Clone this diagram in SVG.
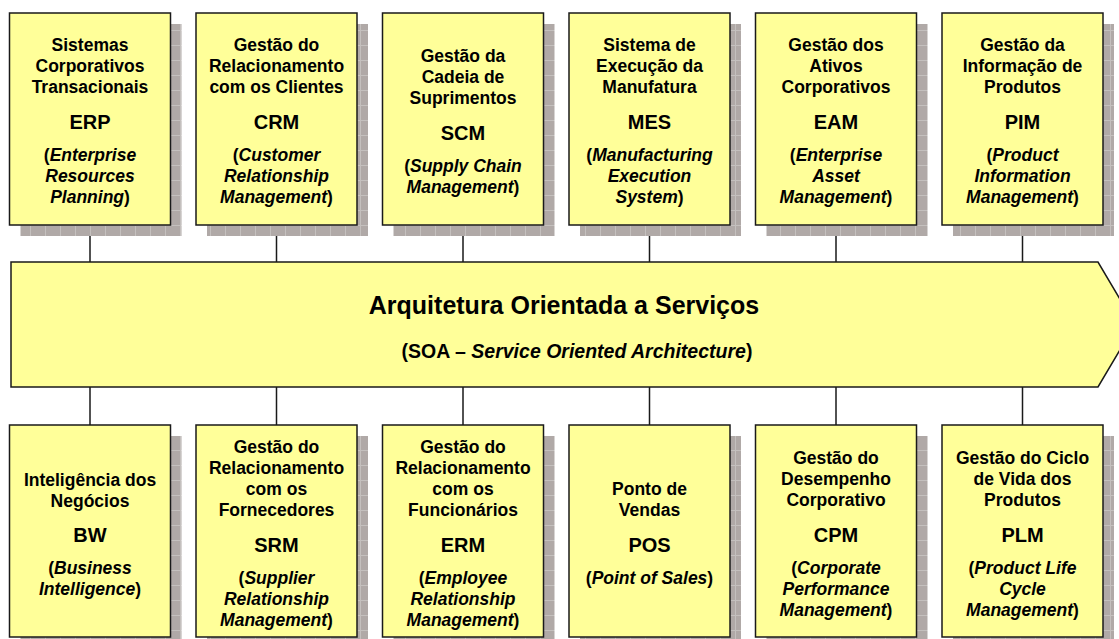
<svg xmlns="http://www.w3.org/2000/svg" width="1119" height="639" viewBox="0 0 1119 639">
<style>
.box{fill:#ffff99;stroke:#1a1a1a;stroke-width:1.5}
.sh{fill:url(#grid)}
.t{font-family:"Liberation Sans",Arial,sans-serif;font-weight:bold;font-size:17.5px;fill:#000;text-anchor:middle}
.a{font-size:20px}
.i{font-style:italic}
.c{stroke:#1a1a1a;stroke-width:1.5;fill:none}
</style>
<defs>
<pattern id="grid" width="15" height="15" patternUnits="userSpaceOnUse">
<rect width="15" height="15" fill="#b0a9a7"/>
<path d="M0 0.5H15M0.5 0V15" stroke="#c4c0be" stroke-width="1"/>
</pattern>
</defs>
<rect width="1119" height="639" fill="#fff"/>

<g id="connectors">
<path class="c" d="M90 225V262M276.5 225V262M463 225V262M649.5 225V262M836 225V262M1022.5 225V262"/>
<path class="c" d="M90 387V425M276.5 387V425M463 387V425M649.5 387V425M836 387V425M1022.5 387V425"/>
</g>

<g id="soa">
<polygon class="box" points="11,262 1098,262 1135,324.5 1098,387 11,387"/>
<text class="t" x="564" y="314" style="font-size:25px">Arquitetura Orientada a Serviços</text>
<text class="t" x="577" y="358" style="font-size:19.5px">(SOA – <tspan class="i">Service Oriented Architecture</tspan>)</text>
</g>

<g id="erp">
<rect class="sh" x="20.5" y="24" width="161" height="212"/>
<rect class="box" x="9.5" y="13" width="161" height="212"/>
<text class="t" x="90"><tspan x="90" y="51">Sistemas</tspan><tspan x="90" y="72">Corporativos</tspan><tspan x="90" y="93">Transacionais</tspan><tspan x="90" y="129" class="a">ERP</tspan><tspan x="90" y="161">(<tspan class="i">Enterprise</tspan></tspan><tspan x="90" y="182" class="i">Resources</tspan><tspan x="90" y="203"><tspan class="i">Planning</tspan>)</tspan></text>
</g>

<g id="crm">
<rect class="sh" x="207" y="24" width="161" height="212"/>
<rect class="box" x="196" y="13" width="161" height="212"/>
<text class="t" x="276.5"><tspan x="276.5" y="51">Gestão do</tspan><tspan x="276.5" y="72">Relacionamento</tspan><tspan x="276.5" y="93">com os Clientes</tspan><tspan x="276.5" y="129" class="a">CRM</tspan><tspan x="276.5" y="161">(<tspan class="i">Customer</tspan></tspan><tspan x="276.5" y="182" class="i">Relationship</tspan><tspan x="276.5" y="203"><tspan class="i">Management</tspan>)</tspan></text>
</g>

<g id="scm">
<rect class="sh" x="393.5" y="24" width="161" height="212"/>
<rect class="box" x="382.5" y="13" width="161" height="212"/>
<text class="t" x="463"><tspan x="463" y="61.5">Gestão da</tspan><tspan x="463" y="82.5">Cadeia de</tspan><tspan x="463" y="103.5">Suprimentos</tspan><tspan x="463" y="139.5" class="a">SCM</tspan><tspan x="463" y="171.5">(<tspan class="i">Supply Chain</tspan></tspan><tspan x="463" y="192.5"><tspan class="i">Management</tspan>)</tspan></text>
</g>

<g id="mes">
<rect class="sh" x="580" y="24" width="161" height="212"/>
<rect class="box" x="569" y="13" width="161" height="212"/>
<text class="t" x="649.5"><tspan x="649.5" y="51">Sistema de</tspan><tspan x="649.5" y="72">Execução da</tspan><tspan x="649.5" y="93">Manufatura</tspan><tspan x="649.5" y="129" class="a">MES</tspan><tspan x="649.5" y="161">(<tspan class="i">Manufacturing</tspan></tspan><tspan x="649.5" y="182" class="i">Execution</tspan><tspan x="649.5" y="203"><tspan class="i">System</tspan>)</tspan></text>
</g>

<g id="eam">
<rect class="sh" x="766.5" y="24" width="161" height="212"/>
<rect class="box" x="755.5" y="13" width="161" height="212"/>
<text class="t" x="836"><tspan x="836" y="51">Gestão dos</tspan><tspan x="836" y="72">Ativos</tspan><tspan x="836" y="93">Corporativos</tspan><tspan x="836" y="129" class="a">EAM</tspan><tspan x="836" y="161">(<tspan class="i">Enterprise</tspan></tspan><tspan x="836" y="182" class="i">Asset</tspan><tspan x="836" y="203"><tspan class="i">Management</tspan>)</tspan></text>
</g>

<g id="pim">
<rect class="sh" x="953" y="24" width="161" height="212"/>
<rect class="box" x="942" y="13" width="161" height="212"/>
<text class="t" x="1022.5"><tspan x="1022.5" y="51">Gestão da</tspan><tspan x="1022.5" y="72">Informação de</tspan><tspan x="1022.5" y="93">Produtos</tspan><tspan x="1022.5" y="129" class="a">PIM</tspan><tspan x="1022.5" y="161">(<tspan class="i">Product</tspan></tspan><tspan x="1022.5" y="182" class="i">Information</tspan><tspan x="1022.5" y="203"><tspan class="i">Management</tspan>)</tspan></text>
</g>

<g id="bw">
<rect class="sh" x="20.5" y="436" width="161" height="212"/>
<rect class="box" x="9.5" y="425" width="161" height="212"/>
<text class="t" x="90"><tspan x="90" y="485.5">Inteligência dos</tspan><tspan x="90" y="506.5">Negócios</tspan><tspan x="90" y="541.5" class="a">BW</tspan><tspan x="90" y="573.5">(<tspan class="i">Business</tspan></tspan><tspan x="90" y="594.5"><tspan class="i">Intelligence</tspan>)</tspan></text>
</g>

<g id="srm">
<rect class="sh" x="207" y="436" width="161" height="212"/>
<rect class="box" x="196" y="425" width="161" height="212"/>
<text class="t" x="276.5"><tspan x="276.5" y="453">Gestão do</tspan><tspan x="276.5" y="474">Relacionamento</tspan><tspan x="276.5" y="495">com os</tspan><tspan x="276.5" y="516">Fornecedores</tspan><tspan x="276.5" y="552" class="a">SRM</tspan><tspan x="276.5" y="584">(<tspan class="i">Supplier</tspan></tspan><tspan x="276.5" y="605" class="i">Relationship</tspan><tspan x="276.5" y="626"><tspan class="i">Management</tspan>)</tspan></text>
</g>

<g id="erm">
<rect class="sh" x="393.5" y="436" width="161" height="212"/>
<rect class="box" x="382.5" y="425" width="161" height="212"/>
<text class="t" x="463"><tspan x="463" y="453">Gestão do</tspan><tspan x="463" y="474">Relacionamento</tspan><tspan x="463" y="495">com os</tspan><tspan x="463" y="516">Funcionários</tspan><tspan x="463" y="552" class="a">ERM</tspan><tspan x="463" y="584">(<tspan class="i">Employee</tspan></tspan><tspan x="463" y="605" class="i">Relationship</tspan><tspan x="463" y="626"><tspan class="i">Management</tspan>)</tspan></text>
</g>

<g id="pos">
<rect class="sh" x="580" y="436" width="161" height="212"/>
<rect class="box" x="569" y="425" width="161" height="212"/>
<text class="t" x="649.5"><tspan x="649.5" y="495">Ponto de</tspan><tspan x="649.5" y="516">Vendas</tspan><tspan x="649.5" y="552" class="a">POS</tspan><tspan x="649.5" y="584">(<tspan class="i">Point of Sales</tspan>)</tspan></text>
</g>

<g id="cpm">
<rect class="sh" x="766.5" y="436" width="161" height="212"/>
<rect class="box" x="755.5" y="425" width="161" height="212"/>
<text class="t" x="836"><tspan x="836" y="463.5">Gestão do</tspan><tspan x="836" y="484.5">Desempenho</tspan><tspan x="836" y="505.5">Corporativo</tspan><tspan x="836" y="541.5" class="a">CPM</tspan><tspan x="836" y="573.5">(<tspan class="i">Corporate</tspan></tspan><tspan x="836" y="594.5" class="i">Performance</tspan><tspan x="836" y="615.5"><tspan class="i">Management</tspan>)</tspan></text>
</g>

<g id="plm">
<rect class="sh" x="953" y="436" width="161" height="212"/>
<rect class="box" x="942" y="425" width="161" height="212"/>
<text class="t" x="1022.5"><tspan x="1022.5" y="463.5">Gestão do Ciclo</tspan><tspan x="1022.5" y="484.5">de Vida dos</tspan><tspan x="1022.5" y="505.5">Produtos</tspan><tspan x="1022.5" y="541.5" class="a">PLM</tspan><tspan x="1022.5" y="573.5">(<tspan class="i">Product Life</tspan></tspan><tspan x="1022.5" y="594.5" class="i">Cycle</tspan><tspan x="1022.5" y="615.5"><tspan class="i">Management</tspan>)</tspan></text>
</g>
</svg>
